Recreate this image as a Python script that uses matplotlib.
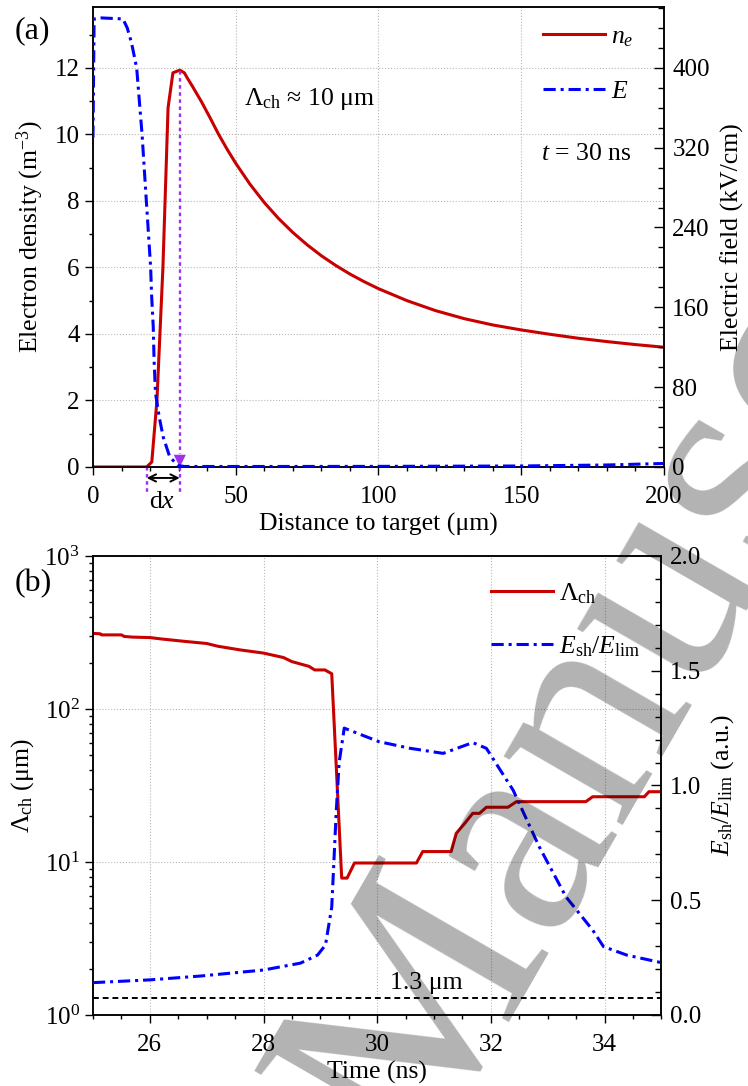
import matplotlib
matplotlib.use('Agg')
import matplotlib.pyplot as plt
from matplotlib.ticker import MultipleLocator, LogLocator, LogFormatterMathtext, FormatStrFormatter, NullFormatter, FixedLocator
from matplotlib.lines import Line2D

plt.rcParams['font.family'] = ['Liberation Serif', 'DejaVu Serif']
plt.rcParams['mathtext.fontset'] = 'custom'
plt.rcParams['mathtext.rm'] = 'Liberation Serif'
plt.rcParams['mathtext.it'] = 'Liberation Serif:italic'
plt.rcParams['mathtext.bf'] = 'Liberation Serif:bold'

# ---------------- panel (a): profiles at t = 30 ns ----------------
dist_ne = [0, 18.8, 20.6, 22.4, 24.5, 26.3, 28.0, 30.4, 32, 33, 35, 38, 41, 44,
           47, 50, 55, 60, 65, 70, 75, 80, 85, 90, 95, 100, 110, 120, 130,
           140, 150, 160, 170, 180, 190, 200]
ne = [0, 0, 0.15, 2.0, 6.0, 10.8, 11.85, 11.93, 11.85, 11.7, 11.42, 10.98,
      10.5, 10.0, 9.55, 9.13, 8.5, 7.95, 7.47, 7.05, 6.68, 6.35, 6.06, 5.80,
      5.57, 5.36, 5.00, 4.70, 4.46, 4.27, 4.12, 3.99, 3.87, 3.77, 3.68, 3.60]

dist_E = [0, 0.4, 3, 10.5, 12, 13.5, 15.3, 17.2, 18.5, 20.2, 20.5, 21.1, 21.4,
          21.9, 23.2, 24.6, 26.9, 29.8, 32, 60, 100, 150, 180, 200]
efield = [330, 449, 450, 449, 440, 425, 400, 333, 275, 200, 174, 141, 107,
          74, 50, 30, 10, 1.5, 0.5, 0.5, 0.6, 1.0, 2.0, 3.5]

x_front = 18.8   # start of density rise
x_peak = 30.4    # density peak

# ---------------- panel (b): time evolution ----------------
t_lam = [25.0, 25.13, 25.15, 25.5, 25.55, 25.7, 26.0, 26.2, 26.6, 27.0, 27.2,
         27.6, 28.0, 28.35, 28.5, 28.8, 28.9, 29.08, 29.2, 29.375, 29.47, 29.6,
         30.69, 30.8, 31.3, 31.39, 31.54, 31.68, 31.8, 31.92, 32.3, 32.45,
         33.67, 33.79, 34.7, 34.78, 35.0]
lam_ch = [312, 310, 305, 305, 298, 295, 293, 287, 277, 268, 257,
          243, 232, 217, 204, 190, 180, 180, 170, 7.85, 7.85, 9.85,
          9.85, 11.7, 11.7, 15.4, 17.9, 20.8, 20.8, 22.8, 22.8, 24.8,
          24.8, 26.7, 26.7, 28.8, 28.8]

t_ratio = [25.0, 26.0, 26.9, 28.0, 28.65, 28.95, 29.09, 29.2, 29.28, 29.33,
           29.42, 30.03, 30.58, 31.16, 31.68, 31.92, 32.39, 32.85, 33.32,
           33.79, 33.98, 34.39, 35.0]
e_ratio = [0.141, 0.153, 0.170, 0.196, 0.226, 0.261, 0.305, 0.47, 0.89, 1.10,
           1.25, 1.191, 1.162, 1.140, 1.187, 1.162, 0.98, 0.733, 0.515,
           0.37, 0.298, 0.261, 0.228]

lam_min = 1.3

RED = '#C80000'
BLUE = '#0000FF'
VIOLET = '#A030F0'
GRID = '#b8b8b8'
TICK_FS = 18
LAB_FS = 18.5
LW = 2.2
DASHDOT = (0, (4, 1.6, 1, 1.6))

fig = plt.figure(figsize=(7.48, 10.86), dpi=100)


def style_axes(ax, ax2):
    for a in (ax, ax2):
        for s in a.spines.values():
            s.set_linewidth(1.1)
    ax.tick_params(axis='both', which='major', direction='out', length=6,
                   width=1.0, labelsize=TICK_FS, top=False, right=False)
    ax.tick_params(axis='x', which='major', pad=8)
    ax.tick_params(axis='both', which='minor', direction='out', length=3,
                   width=1.0, top=False, right=False)
    ax2.tick_params(axis='y', which='major', direction='in', length=7,
                    width=1.0, labelsize=TICK_FS, pad=6)
    ax2.tick_params(axis='y', which='minor', direction='in', length=4, width=1.0)
    ax.grid(True, which='major', linestyle=':', color=GRID, linewidth=0.8)
    ax.set_axisbelow(True)


# ---------- (a) ----------
axa = fig.add_axes([0.1243, 0.5700, 0.7634, 0.4236])
axa2 = axa.twinx()
ylim_a = 13.83
axa.set_xlim(0, 200)
axa.set_ylim(0, ylim_a)
axa2.set_ylim(0, ylim_a * 400 / 12)
axa.xaxis.set_major_locator(MultipleLocator(50))
axa.xaxis.set_minor_locator(MultipleLocator(10))
axa.yaxis.set_major_locator(FixedLocator([0, 2, 4, 6, 8, 10, 12]))
axa.yaxis.set_minor_locator(MultipleLocator(1))
axa2.yaxis.set_major_locator(MultipleLocator(80))
axa2.yaxis.set_minor_locator(MultipleLocator(20))
style_axes(axa, axa2)

axa.plot(dist_ne, ne, color=RED, lw=LW, zorder=3)
axa2.plot(dist_E, efield, color=BLUE, lw=LW, linestyle=DASHDOT, zorder=3)

axa.set_xlabel('Distance to target (μm)', fontsize=LAB_FS, labelpad=3)
axa.set_ylabel(r'Electron density (m$^{-3}$)', fontsize=LAB_FS, labelpad=6)
axa2.set_ylabel('Electric field (kV/cm)', fontsize=LAB_FS, labelpad=8)

# front width markers
dot = (0, (1.5, 1.5))
axa.plot([x_front, x_front], [0, -0.75], color=VIOLET, lw=1.7, ls=dot,
         clip_on=False, zorder=4)
axa.plot([x_peak, x_peak], [11.9, 0.4], color=VIOLET, lw=1.7, ls=dot,
         clip_on=False, zorder=4)
axa.plot([x_peak, x_peak], [0, -0.75], color=VIOLET, lw=1.7, ls=dot,
         clip_on=False, zorder=4)
axa.annotate('', xy=(x_peak, 0.0), xytext=(x_peak, 0.7),
             arrowprops=dict(arrowstyle='-|>', color=VIOLET, lw=0,
                             mutation_scale=22, shrinkA=0, shrinkB=0),
             annotation_clip=False, zorder=5)
axa.annotate('', xy=(x_front, -0.33), xytext=(x_peak, -0.33),
             arrowprops=dict(arrowstyle='<->', color='black', lw=1.4,
                             mutation_scale=13, shrinkA=0, shrinkB=0),
             annotation_clip=False)
axa.text(24.3, -1.05, r'd$x$', fontsize=LAB_FS, ha='center', va='center')

axa.text(53, 11.07, r'$\Lambda_{\rm ch}$ ≈ 10 μm', fontsize=LAB_FS,
         ha='left', va='center')
axa.text(157, 9.4, r'$t$ = 30 ns', fontsize=LAB_FS, ha='left', va='center')

leg_a = axa.legend([Line2D([], [], color=RED, lw=LW),
                    Line2D([], [], color=BLUE, lw=LW, linestyle=DASHDOT)],
                   [r'$n_e$', r'$E$'], loc='upper left',
                   bbox_to_anchor=(0.748, 1.01), frameon=False,
                   fontsize=LAB_FS, handlelength=2.4, handletextpad=0.25,
                   labelspacing=1.2)

# ---------- (b) ----------
axb = fig.add_axes([0.1243, 0.06538, 0.7600, 0.42265])
axb2 = axb.twinx()
axb.set_xlim(25, 35)
axb.set_yscale('log')
axb.set_ylim(1, 1000)
axb2.set_ylim(0, 2.0)
axb.xaxis.set_major_locator(FixedLocator([26, 28, 30, 32, 34]))
axb.xaxis.set_minor_locator(MultipleLocator(0.5))
axb.yaxis.set_major_locator(LogLocator(base=10, numticks=10))
axb.yaxis.set_minor_locator(LogLocator(base=10, subs=range(2, 10), numticks=10))
axb.yaxis.set_major_formatter(LogFormatterMathtext())
axb.yaxis.set_minor_formatter(NullFormatter())
axb2.yaxis.set_major_locator(MultipleLocator(0.5))
axb2.yaxis.set_minor_locator(MultipleLocator(0.1))
axb2.yaxis.set_major_formatter(FormatStrFormatter('%.1f'))
style_axes(axb, axb2)

axb.plot(t_lam, lam_ch, color=RED, lw=LW, zorder=3)
axb.axhline(lam_min, color='black', lw=1.4, ls=(0, (3, 2)), zorder=3)
axb.text(30.87, 1.38, '1.3 μm', fontsize=LAB_FS, ha='center', va='bottom')
axb2.plot(t_ratio, e_ratio, color=BLUE, lw=LW, linestyle=DASHDOT, zorder=3)

axb.set_xlabel('Time (ns)', fontsize=LAB_FS, labelpad=3)
axb.set_ylabel(r'$\Lambda_{\rm ch}$ (μm)', fontsize=LAB_FS, labelpad=6)
axb2.set_ylabel(r'$E_{\rm sh}/E_{\rm lim}$ (a.u.)', fontsize=LAB_FS, labelpad=6)

leg_b = axb.legend([Line2D([], [], color=RED, lw=LW),
                    Line2D([], [], color=BLUE, lw=LW, linestyle=DASHDOT)],
                   [r'$\Lambda_{\rm ch}$', r'$E_{\rm sh}/E_{\rm lim}$'],
                   loc='upper left', bbox_to_anchor=(0.66, 0.995),
                   frameon=False, fontsize=LAB_FS, handlelength=2.4,
                   handletextpad=0.25, labelspacing=1.1)

fig.text(0.02, 0.972, '(a)', fontsize=23, ha='left', va='center')
fig.text(0.02, 0.463, '(b)', fontsize=23, ha='left', va='center')

# journal watermark
wm = dict(fontsize=216, color='black', alpha=0.3, rotation=60,
          rotation_mode='anchor', va='baseline', zorder=20,
          family='Liberation Serif')
fig.text(416 / 748, 1 - 1169 / 1086, 'Manuscript', ha='left', **wm)
fig.text(378 / 748, 1 - 1234 / 1086, 'Accepted', ha='right', **wm)

fig.savefig('out.png', dpi=100)
